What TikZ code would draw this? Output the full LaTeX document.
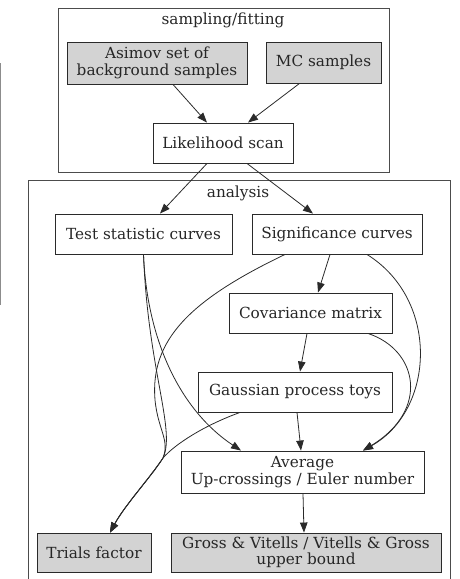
\documentclass[tikz,border=0pt]{standalone}
\usepackage{fontspec}
\setmainfont{DejaVu Serif}
\usetikzlibrary{arrows.meta,calc}
\definecolor{nodefill}{HTML}{D3D3D3}
\definecolor{edgecol}{HTML}{2A2A2A}
\tikzset{
  box/.style={draw=edgecol, line width=0.9pt, inner sep=0pt, align=center,
    font=\fontsize{15.3}{16.5}\selectfont, text=black!85},
  filled/.style={box, fill=nodefill},
  cluster/.style={draw=black!70, line width=0.9pt},
  edge/.style={draw=edgecol, line width=0.8pt, -{Triangle[length=10pt,width=7.5pt]}},
  lbl/.style={font=\fontsize{15.3}{16.5}\selectfont, text=black!85, inner sep=0pt}
}
\begin{document}
\begin{tikzpicture}[x=1pt,y=-1pt]
\useasboundingbox (0,0) rectangle (459,579);
\begin{scope}
\clip (0,0) rectangle (459,579);
% cropped fragment at left edge
\draw[black!45, line width=1pt] (0.5,63) -- (0.5,305);
% clusters
\draw[cluster] (58,8) rectangle (389,172);
\draw[cluster] (28,180) rectangle (450,590);
\end{scope}
\node[lbl] (clA) at (223,20) {sampling/fitting};
\node[lbl] (clB) at (238,193) {analysis};
% nodes
\node[filled, minimum width=180pt, minimum height=42pt] (asimov) at (157,63) {Asimov set of\\background samples};
\node[filled, minimum width=115pt, minimum height=41pt] (mc) at (323.5,62.5) {MC samples};
\node[box, minimum width=140pt, minimum height=40pt] (lik) at (223,143) {Likelihood scan};
\node[box, minimum width=177pt, minimum height=40pt] (test) at (143.5,234) {Test statistic curves};
\node[box, minimum width=170pt, minimum height=40pt] (sig) at (337,234) {Significance curves};
\node[box, minimum width=163pt, minimum height=40pt] (cov) at (310.5,313) {Covariance matrix};
\node[box, minimum width=194pt, minimum height=40pt] (gauss) at (295,392) {Gaussian process toys};
\node[box, minimum width=243pt, minimum height=42pt] (avg) at (302.5,472) {Average\\Up-crossings / Euler number};
\node[filled, minimum width=114pt, minimum height=39pt] (trials) at (94,552.5) {Trials factor};
\node[filled, minimum width=270pt, minimum height=39pt] (gross) at (306,552.5) {Gross \& Vitells / Vitells \& Gross\\upper bound};
% straight edges
\draw[edge] ([xshift=16pt]asimov.south) -- ([xshift=-16pt]lik.north);
\draw[edge] ([xshift=-24pt]mc.south) -- ([xshift=25pt]lik.north);
\draw[edge] ([xshift=-16pt]lik.south) -- ([xshift=16.5pt]test.north);
\draw[edge] ([xshift=24pt]lik.south) -- ([xshift=-24pt]sig.north);
\draw[edge] ([xshift=-7pt]sig.south) -- ([xshift=7.5pt]cov.north);
\draw[edge] ([xshift=-3.5pt]cov.south) -- ([xshift=5pt]gauss.north);
\draw[edge] ([xshift=2pt]gauss.south) -- ([xshift=-1.5pt]avg.north);
\draw[edge] ([xshift=0.5pt]avg.south) -- ([xshift=-2pt]gross.north);
% curved edges
\coordinate (trialsin) at ([xshift=16pt]trials.north);
\coordinate (merge) at (163,458);
\draw[edge] (test.south) .. controls (147,340) and (180,410) .. ([xshift=-61.5pt]avg.north);
\draw[edge] (test.south) .. controls (148,370) and (176,430) .. (merge) .. controls (150,478) and (125,505) .. (trialsin);
\draw[edge] ([xshift=-52pt]sig.south) .. controls (190,300) and (150,340) .. (155,400) .. controls (158,430) and (170,440) .. (merge) .. controls (150,478) and (125,505) .. (trialsin);
\draw[edge] ([xshift=-55pt]gauss.south) .. controls (205,425) and (175,444) .. (merge) .. controls (150,478) and (125,505) .. (trialsin);
\draw[edge] ([xshift=30pt]sig.south) .. controls (440,300) and (435,410) .. ([xshift=60.5pt]avg.north);
\draw[edge] ([xshift=57.5pt]cov.south) .. controls (418,350) and (430,410) .. ([xshift=60.5pt]avg.north);
\end{tikzpicture}
\end{document}
